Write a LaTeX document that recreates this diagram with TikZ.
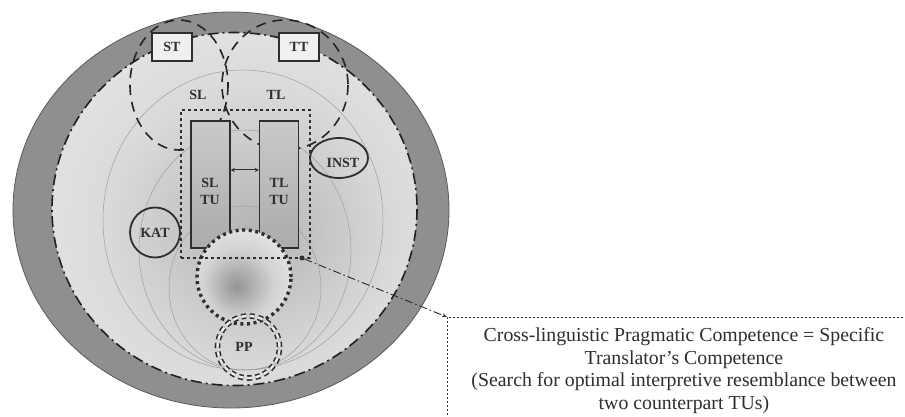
\documentclass[tikz,border=0pt]{standalone}
\usepackage{fontspec}
\setmainfont{Liberation Serif}
\usetikzlibrary{shapes.geometric,arrows.meta}

\definecolor{ringgray}{gray}{0.56}
\definecolor{ringedge}{gray}{0.35}
\definecolor{ink}{gray}{0.18}
\definecolor{bgA}{gray}{0.70}
\definecolor{bgB}{gray}{0.78}
\definecolor{bgC}{gray}{0.855}
\definecolor{bgD}{gray}{0.89}
\definecolor{bgE}{gray}{0.91}
\definecolor{spA}{gray}{0.58}
\definecolor{spB}{gray}{0.82}
\definecolor{spC}{gray}{0.96}
\definecolor{fieldline}{gray}{0.62}

% soft grey field, darkest around the two text units
\pgfdeclareradialshading{fieldshade}{\pgfpoint{3bp}{-4bp}}{%
  color(0bp)=(bgA); color(10bp)=(bgB); color(20bp)=(bgC); color(30bp)=(bgD);
  color(42bp)=(bgE); color(72bp)=(bgE)}
% core of the pragmatic competence
\pgfdeclareradialshading{spotshade}{\pgfpoint{-4bp}{-5bp}}{%
  color(0bp)=(spA); color(18bp)=(spB); color(40bp)=(spC); color(72bp)=(spC)}

\begin{document}
\begin{tikzpicture}[x=1pt,y=-1pt,
  lbl/.style={font=\fontsize{14}{17}\selectfont\bfseries, text=ink, inner sep=0pt},
  tubox/.style={draw=ink, line width=1.5pt, top color=gray!42, bottom color=gray!66,
    minimum width=39pt, minimum height=127pt, inner sep=0pt},
  tagbox/.style={draw=ink, line width=1.2pt, fill=gray!12, minimum width=40pt,
    minimum height=28pt, inner sep=0pt},
  ringnode/.style={draw=ink, line width=1.8pt, inner sep=0pt},
  langzone/.style={draw=gray!28!black, line width=1.6pt, dash pattern=on 10pt off 7pt},
  fieldring/.style={draw=fieldline, line width=0.5pt},
  dashdot/.style={draw=gray!30!black, line width=0.9pt, dash pattern=on 8pt off 3pt on 1.5pt off 3pt},
  notebox/.style={draw=ink, line width=0.9pt, dash pattern=on 2pt off 2pt, anchor=north west,
    minimum width=473pt, minimum height=106pt, align=center, text=ink,
    font=\fontsize{19.8}{22.6}\selectfont}
]
\useasboundingbox (0,0) rectangle (905,417);
\clip (0,0) rectangle (905,417);
\fill[white] (0,0) rectangle (905,417);

% outer band and inner field
\filldraw[fill=ringgray, draw=ringedge, line width=0.8pt] (231,210) ellipse (218 and 198);
\shade[shading=fieldshade] (234.5,209) ellipse (182.5 and 176.5);

% thin field rings touching at the bottom
\draw[fieldring] (243,220) ellipse (140 and 150);
\draw[fieldring] (245,250) ellipse (106 and 120);
\draw[fieldring] (245,288) ellipse (76 and 82);

% dash-dot border of the inner field
\draw[draw=gray!25!black, line width=1.6pt, dash pattern=on 11pt off 4pt on 2pt off 4pt]
  (234.5,209) ellipse (182.5 and 176.5);

% source and target language zones
\draw[langzone] (179,85) ellipse (49 and 65);
\draw[langzone] (285,85) ellipse (63 and 65);

% source and target texts
\node[tagbox, lbl] (st) at (172,47) {ST};
\node[tagbox, lbl] (tt) at (299,47) {TT};

\node[lbl] (sl) at (198,95) {SL};
\node[lbl] (tl) at (276,95) {TL};

% the two translation units
\node[tubox] (sltu) at (210.5,184.5) {};
\node[tubox] (tltu) at (279,184.5) {};
\node[lbl, align=center] (sltutext) at (210,191) {SL\\TU};
\node[lbl, align=center] (tltutext) at (279,191) {TL\\TU};
\draw[{Stealth[length=4pt,width=4pt]}-{Stealth[length=4pt,width=4pt]}, line width=1pt, ink]
  ([yshift=14.5pt]sltu.east) -- ([yshift=14.5pt]tltu.west);

% pragmatic core
\node[circle, minimum size=94pt, inner sep=0pt, shading=spotshade, draw=ink,
  line width=3.4pt, dash pattern=on 3pt off 3.6pt] (core) at (244,277) {};

% frame round the units
\node[draw=ink, line width=1.6pt, dash pattern=on 3.2pt off 2.8pt, minimum width=129pt,
  minimum height=148pt, inner sep=0pt] (zone) at (245.5,184) {};

% PP circle
\node[circle, minimum size=62pt, inner sep=0pt, draw=ink, line width=1.6pt, double=gray!15,
  double distance=2.4pt, dash pattern=on 5pt off 3.5pt] (pp) at (248.5,347) {};
\node[lbl] (pptext) at (244,347) {PP};

% INST and KAT
\node[ellipse, ringnode, minimum width=58pt, minimum height=40pt] (inst) at (339,158) {};
\node[lbl] (insttext) at (343,163) {INST};
\node[circle, ringnode, minimum size=50pt, lbl, line width=1.8pt] (kat) at (155,232.5) {KAT};

% connector to the explanation
\node[circle, fill=ink, minimum size=5pt, inner sep=0pt] (dot) at (302,258) {};
\node[notebox] (comp) at (447,317) {Cross-linguistic Pragmatic Competence = Specific\\
  Translator’s Competence\\
  (Search for optimal interpretive resemblance between\\
  two counterpart TUs)};
\draw[dashdot, -{Stealth[length=5pt,width=4pt]}] (dot) -- (comp.north west);
\end{tikzpicture}
\end{document}
